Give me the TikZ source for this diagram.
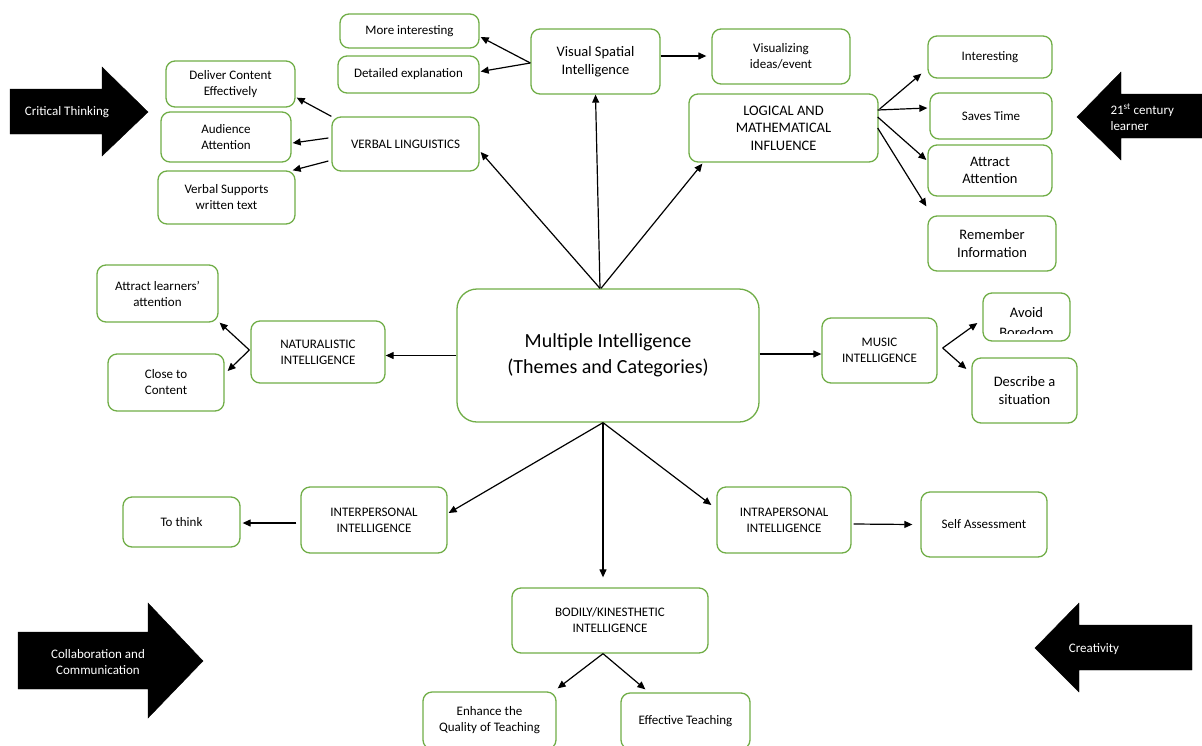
\documentclass[tikz,border=0pt]{standalone}
\usepackage{fontspec}
\setmainfont{Carlito}
\usetikzlibrary{arrows.meta,calc}
\definecolor{grn}{HTML}{70AD47}
\begin{document}
\begin{tikzpicture}[x=1pt,y=-1pt,
 box/.style={draw=grn, line width=1.3pt, rounded corners=9pt, align=center, inner sep=2pt, font=\fontsize{13}{16}\selectfont, text=black},
 bigbox/.style={box, font=\fontsize{14.5}{17.5}\selectfont},
 con/.style={line width=1.2pt, -{Triangle[length=8pt,width=7pt]}},
 blk/.style={fill=black, draw=black},
 blktxt/.style={text=white, font=\fontsize{13}{16}\selectfont, align=center}]
\useasboundingbox (0,0) rectangle (1202,745);
% big black arrows
\draw[blk] (10,89) -- (102,89) -- (102,67) -- (148,112) -- (102,156) -- (102,134) -- (10,134) -- cycle;
\node[blktxt] (ct) at (67,112) {Critical Thinking};
\draw[blk] (1210,94) -- (1121,94) -- (1121,72) -- (1077,117) -- (1121,160) -- (1121,138) -- (1210,138) -- cycle;
\node[blktxt, anchor=west, align=left] (c21) at (1107,117) {21\textsuperscript{st} century\\learner};
\draw[blk] (18,632) -- (148,632) -- (148,603) -- (203,661) -- (148,718) -- (148,689) -- (18,689) -- cycle;
\node[blktxt] (cc) at (98,662) {Collaboration and\\Communication};
\draw[blk] (1192,625) -- (1079,625) -- (1079,603) -- (1035,648) -- (1079,692) -- (1079,670) -- (1192,670) -- cycle;
\node[blktxt] (cr) at (1094,649) {Creativity};
% boxes
\node[box, minimum width=139pt, minimum height=34pt] (morei) at (409.5,31) {More interesting};
\node[box, minimum width=141pt, minimum height=37pt] (detail) at (408.5,74.5) {Detailed explanation};
\node[bigbox, minimum width=129pt, minimum height=65pt] (vsi) at (595.5,61.5) {Visual Spatial\\Intelligence};
\node[box, minimum width=138pt, minimum height=55pt] (vis) at (781,56.5) {Visualizing\\ideas/event};
\node[bigbox, minimum width=189pt, minimum height=68pt] (logic) at (783.5,128) {LOGICAL AND\\MATHEMATICAL\\INFLUENCE};
\node[box, minimum width=124pt, minimum height=42pt] (inter) at (990,57) {Interesting};
\node[box, minimum width=122pt, minimum height=46pt] (saves) at (991,116) {Saves Time};
\node[bigbox, minimum width=124pt, minimum height=51pt] (attract) at (990,170.5) {Attract\\Attention};
\node[bigbox, minimum width=128pt, minimum height=55pt] (remember) at (992,243.5) {Remember\\Information};
\node[box, minimum width=129pt, minimum height=46pt] (deliver) at (230.5,84) {Deliver Content\\Effectively};
\node[box, minimum width=130pt, minimum height=50pt] (audience) at (226,137) {Audience\\Attention};
\node[box, minimum width=137pt, minimum height=53pt] (vsupp) at (226.5,197.5) {Verbal Supports\\written text};
\node[box, minimum width=147pt, minimum height=54pt] (verbal) at (405.5,144) {VERBAL LINGUISTICS};
\node[box, minimum width=121pt, minimum height=57pt] (attl) at (157.5,293.5) {Attract learners'\\attention};
\node[box, minimum width=116pt, minimum height=57pt] (close) at (166,382.5) {Close to\\Content};
\node[box, minimum width=134pt, minimum height=62pt] (natur) at (318,352) {NATURALISTIC\\INTELLIGENCE};
\node[box, rounded corners=20pt, font=\fontsize{20}{26}\selectfont, minimum width=302pt, minimum height=133pt] (main) at (608,355.5) {Multiple Intelligence\\(Themes and Categories)};
\node[box, minimum width=115pt, minimum height=65pt] (music) at (879.5,350.5) {MUSIC\\INTELLIGENCE};
\node[box, minimum width=87pt, minimum height=48pt] (avoid) at (1026.5,317) {};
\begin{scope}
\clip (984,294) rectangle (1069,333);
\node[box, draw=none, font=\fontsize{14.5}{20}\selectfont] (avoidtxt) at (1026.5,322.5) {Avoid\\Boredom};
\end{scope}
\node[bigbox, minimum width=105pt, minimum height=65pt] (describe) at (1024.5,390.5) {Describe a\\situation};
\node[box, minimum width=117pt, minimum height=50pt] (tothink) at (181.5,522) {To think};
\node[box, minimum width=146pt, minimum height=66pt] (interp) at (374,520) {INTERPERSONAL\\INTELLIGENCE};
\node[box, minimum width=134pt, minimum height=66pt] (intrap) at (784,520) {INTRAPERSONAL\\INTELLIGENCE};
\node[box, minimum width=126pt, minimum height=65pt] (self) at (984,524.5) {Self Assessment};
\node[box, minimum width=196pt, minimum height=65pt] (bodily) at (610,620.5) {BODILY/KINESTHETIC\\INTELLIGENCE};
\node[box, minimum width=133pt, minimum height=57pt] (enhance) at (489.5,720.5) {Enhance the\\Quality of Teaching};
\node[box, minimum width=129pt, minimum height=56pt] (effective) at (685.5,721) {Effective Teaching};
% connectors from main
\draw[con] ($(main.north)+(-8,0)$) -- (vsi.south);
\draw[con] ($(main.north)+(-8,0)$) -- ($(verbal.east)+(1,8)$);
\draw[con] ($(main.north)+(-7,0)$) -- ($(logic.south west)+(14,1)$);
\draw[con] (main.west) -- (main.west -| natur.east);
\draw[con] ($(main.east)+(0,-1.5)$) -- ($(music.west)+(0,3.5)$);
\draw[con] ($(main.south)+(-5,0)$) -- ($(bodily.north)+(-7,-10)$);
\draw[con] ($(main.south)+(-5,0)$) -- ($(interp.east)+(1,-7)$);
\draw[con] ($(main.south)+(-5,0)$) -- ($(intrap.west)+(-5,-15)$);
% visual spatial
\draw[con] ($(vsi.west)+(0,1.5)$) -- ($(morei.east)+(1,6)$);
\draw[con] ($(vsi.west)+(0,1.5)$) -- ($(detail.east)+(1,-3)$);
\draw[con] ($(vsi.east)+(0,-5.5)$) -- ($(vis.west)+(-5,-0.5)$);
% verbal
\draw[con] (verbal.north west) -- ($(deliver.south east)+(1,-10)$);
\draw[con] ($(verbal.west)+(-3,-6)$) -- ($(audience.east)+(1,6)$);
\draw[con] ($(verbal.west)+(-3,17)$) -- ($(vsupp.north east)+(-3,0)$);
% logical
\draw[con] ($(logic.east)+(1,-19)$) -- ($(inter.south west)+(-6,-5)$);
\draw[con] ($(logic.east)+(-1,-18)$) -- ($(saves.west)+(-2,-8)$);
\draw[con] ($(logic.east)+(-1,-11)$) -- ($(attract.west)+(-1,-10.5)$);
\draw[con] ($(logic.east)+(-1,0)$) -- ($(remember.north west)+(-1,-9)$);
% naturalistic
\draw[con] ($(natur.west)+(-1,-2)$) -- ($(attl.south east)+(1,0)$);
\draw[con] ($(natur.west)+(-1,-2)$) -- ($(close.east)+(3,-11.5)$);
% music
\draw[con] ($(music.east)+(5,-2.5)$) -- ($(avoid.west)+(-5,6)$);
\draw[con] ($(music.east)+(5,-2.5)$) -- ($(describe.west)+(-5,-21.5)$);
% inter/intra
\draw[con] ($(interp.west)+(-4,3)$) -- ($(tothink.east)+(2,1)$);
\draw[con] ($(intrap.east)+(2,4)$) -- ($(self.west)+(-8,0)$);
% bodily
\draw[con] ($(bodily.south)+(-7,0)$) -- ($(enhance.north east)+(1,-3)$);
\draw[con] ($(bodily.south)+(-7,0)$) -- ($(effective.north west)+(25,-3)$);
\end{tikzpicture}
\end{document}
